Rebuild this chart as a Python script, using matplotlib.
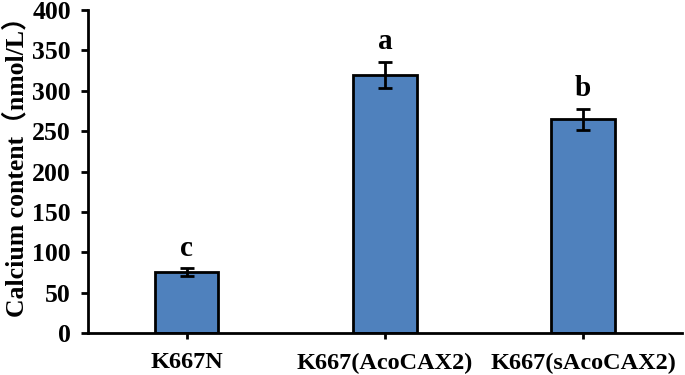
import numpy as np
import matplotlib.pyplot as plt

# data to plot
strains = ["K667N", "K667(AcoCAX2)", "K667(sAcoCAX2)"]
calcium = [75, 320, 265]
calcium_err = [5, 16, 13]
letters = ["c", "a", "b"]

plt.rcParams['font.family'] = ['Liberation Serif', 'Noto Sans CJK SC']
plt.rcParams['font.weight'] = 'bold'

fig = plt.figure(figsize=(6.85, 3.75), dpi=100)
ax = fig.add_axes([0.128, 0.112, 0.868, 0.861])

index = np.arange(len(strains))
ax.bar(index, calcium, 0.32, color='#4F81BD', edgecolor='black', linewidth=2,
       yerr=calcium_err, error_kw=dict(ecolor='black', elinewidth=2, capsize=5, capthick=2),
       zorder=2)

for i, (v, e, t) in enumerate(zip(calcium, calcium_err, letters)):
    ax.text(i, v + e + 8, t, ha='center', va='bottom', fontsize=21, fontweight='bold')

ax.set_xlim(-0.5, 2.5)
ax.set_ylim(0, 400)
ax.set_yticks(np.arange(0, 401, 50))
ax.set_xticks(index)
ax.set_xticklabels(strains, fontsize=17.5, fontweight='bold')
ax.tick_params(axis='y', labelsize=18.5, width=2, length=5, direction='out', pad=7)
ax.tick_params(axis='x', width=2, length=8, direction='inout', pad=10)
for lab in ax.get_yticklabels():
    lab.set_fontweight('bold')

ax.set_ylabel('Calcium content（nmol/L）', fontsize=18.5, fontweight='bold')
ax.yaxis.set_label_coords(-0.1, 0.535)

ax.spines['top'].set_visible(False)
ax.spines['right'].set_visible(False)
ax.spines['left'].set_linewidth(2)
ax.spines['bottom'].set_linewidth(2)

plt.savefig('out.png', dpi=100)
